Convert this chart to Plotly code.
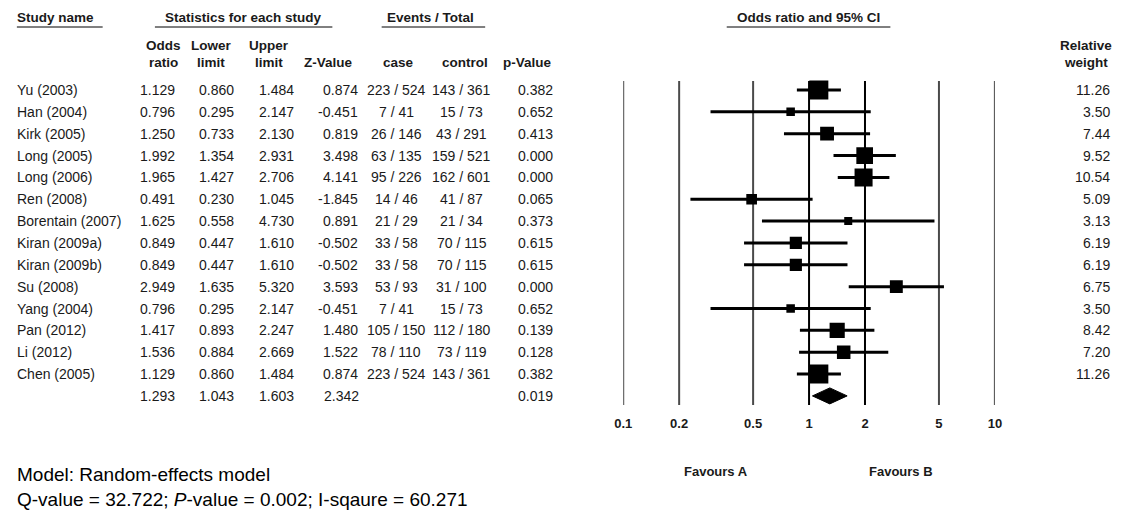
import math
import plotly.graph_objects as go

# ---------------- data ----------------
studies = ["Yu (2003)", "Han (2004)", "Kirk (2005)", "Long (2005)", "Long (2006)",
           "Ren (2008)", "Borentain (2007)", "Kiran (2009a)", "Kiran (2009b)", "Su (2008)",
           "Yang (2004)", "Pan (2012)", "Li (2012)", "Chen (2005)"]
odds_ratio = [1.129, 0.796, 1.250, 1.992, 1.965, 0.491, 1.625, 0.849, 0.849, 2.949,
              0.796, 1.417, 1.536, 1.129]
lower_limit = [0.860, 0.295, 0.733, 1.354, 1.427, 0.230, 0.558, 0.447, 0.447, 1.635,
               0.295, 0.893, 0.884, 0.860]
upper_limit = [1.484, 2.147, 2.130, 2.931, 2.706, 1.045, 4.730, 1.610, 1.610, 5.320,
               2.147, 2.247, 2.669, 1.484]
z_value = [0.874, -0.451, 0.819, 3.498, 4.141, -1.845, 0.891, -0.502, -0.502, 3.593,
           -0.451, 1.480, 1.522, 0.874]
case_events = ["223 / 524", "7 / 41", "26 / 146", "63 / 135", "95 / 226", "14 / 46", "21 / 29",
               "33 / 58", "33 / 58", "53 / 93", "7 / 41", "105 / 150", "78 / 110", "223 / 524"]
control_events = ["143 / 361", "15 / 73", "43 / 291", "159 / 521", "162 / 601", "41 / 87", "21 / 34",
                  "70 / 115", "70 / 115", "31 / 100", "15 / 73", "112 / 180", "73 / 119", "143 / 361"]
p_value = [0.382, 0.652, 0.413, 0.000, 0.000, 0.065, 0.373, 0.615, 0.615, 0.000,
           0.652, 0.139, 0.128, 0.382]
rel_weight = [11.26, 3.50, 7.44, 9.52, 10.54, 5.09, 3.13, 6.19, 6.19, 6.75,
              3.50, 8.42, 7.20, 11.26]

pooled_or = 1.293
pooled_lower = 1.043
pooled_upper = 1.603
pooled_z = 2.342
pooled_p = 0.019

tick_vals = [0.1, 0.2, 0.5, 1, 2, 5, 10]
tick_text = ["0.1", "0.2", "0.5", "1", "2", "5", "10"]

model_text = "Model: Random-effects model"
het_text = "Q-value = 32.722; <i>P</i>-value = 0.002; I-sqaure = 60.271"

# ---------------- layout helpers ----------------
W, H = 1134, 520
ROW0, ROWSTEP = 90.0, 21.85          # pixel y of first row, row spacing
FONT = "Liberation Sans, Arial, sans-serif"
TXT = "#1a1a1a"


def px2row(py):
    return (py - ROW0) / ROWSTEP


def fx(px):
    return px / W


def fy(py):
    return 1 - py / H


n = len(studies)
rows = list(range(n))
sum_row = n

fig = go.Figure()

# vertical reference lines
for v in tick_vals:
    strong = v in (1, 2)
    fig.add_trace(go.Scatter(
        x=[v, v], y=[px2row(81), px2row(405)], mode="lines",
        line=dict(color="#000000" if strong else "#4a4a4a", width=2),
        hoverinfo="skip", showlegend=False))

# confidence interval lines
ci_x, ci_y = [], []
for i in rows:
    ci_x += [lower_limit[i], upper_limit[i], None]
    ci_y += [i, i, None]
fig.add_trace(go.Scatter(x=ci_x, y=ci_y, mode="lines",
                         line=dict(color="#000000", width=3),
                         hoverinfo="skip", showlegend=False))

# squares sized by weight
fig.add_trace(go.Scatter(
    x=odds_ratio, y=rows, mode="markers",
    marker=dict(symbol="square", color="#000000", opacity=1,
                size=[3.8 + 1.35 * w for w in rel_weight], line=dict(width=0)),
    hoverinfo="skip", showlegend=False))

# pooled diamond
h = 8.0 / ROWSTEP
fig.add_trace(go.Scatter(
    x=[pooled_lower, pooled_or, pooled_upper, pooled_or, pooled_lower],
    y=[sum_row, sum_row - h, sum_row, sum_row + h, sum_row],
    mode="lines", fill="toself", fillcolor="#000000",
    line=dict(color="#000000", width=1), hoverinfo="skip", showlegend=False))

ann = []


def add_text(text, x_px, y, anchor="right", size=14, bold=False, yref="y", color=TXT):
    ann.append(dict(text=text, x=fx(x_px), y=y, xref="paper", yref=yref,
                    xanchor=anchor, yanchor="middle", showarrow=False,
                    font=dict(family=FONT, size=size, color=color,
                              weight="bold" if bold else "normal")))


# table body
for i in rows:
    add_text(studies[i], 6, i, anchor="left")
    add_text(f"{odds_ratio[i]:.3f}", 170, i)
    add_text(f"{lower_limit[i]:.3f}", 230, i)
    add_text(f"{upper_limit[i]:.3f}", 291, i)
    add_text(f"{z_value[i]:.3f}", 356, i)
    add_text(case_events[i], 393, i, anchor="center")
    add_text(control_events[i], 459, i, anchor="center")
    add_text(f"{p_value[i]:.3f}", 554, i)
    add_text(f"{rel_weight[i]:.2f}", 1119, i)

# pooled row
add_text(f"{pooled_or:.3f}", 170, sum_row)
add_text(f"{pooled_lower:.3f}", 230, sum_row)
add_text(f"{pooled_upper:.3f}", 291, sum_row)
add_text(f"{pooled_z:.3f}", 337, sum_row, anchor="center")
add_text(f"{pooled_p:.3f}", 554, sum_row)

# headers
HB = 13.5
add_text("Study name", 6, fy(18), anchor="left", size=HB, bold=True, yref="paper")
add_text("Statistics for each study", 238, fy(18), anchor="center", size=HB, bold=True, yref="paper")
add_text("Events / Total", 428, fy(18), anchor="center", size=HB, bold=True, yref="paper")
add_text("Odds ratio and 95% CI", 811, fy(18), anchor="center", size=HB, bold=True, yref="paper")

for label, xc in [("Odds", 157), ("Lower", 205), ("Upper", 264), ("Relative", 1092)]:
    add_text(label, xc, fy(45), anchor="center", size=HB, bold=True, yref="paper")
for label, xc in [("ratio", 157), ("limit", 205), ("limit", 264), ("Z-Value", 324),
                  ("case", 395), ("control", 463), ("p-Value", 526), ("weight", 1092)]:
    add_text(label, xc, fy(62), anchor="center", size=HB, bold=True, yref="paper")

# favours labels
add_text("Favours A", 717, fy(471), anchor="center", size=13, bold=True, yref="paper")
add_text("Favours B", 905, fy(471), anchor="center", size=13, bold=True, yref="paper")

# model text
add_text(model_text, 6, fy(474), anchor="left", size=19, yref="paper", color="#000000")
add_text(het_text, 6, fy(499), anchor="left", size=19, yref="paper", color="#000000")

# header underlines
shapes = []
for x0, x1 in [(8, 95), (148, 328), (378, 483), (728, 894)]:
    shapes.append(dict(type="line", xref="paper", yref="paper",
                       x0=fx(x0), x1=fx(x1), y0=fy(27), y1=fy(27),
                       line=dict(color="#000000", width=1)))

fig.update_layout(
    width=W, height=H, margin=dict(l=0, r=0, t=0, b=0),
    paper_bgcolor="white", plot_bgcolor="white",
    annotations=ann, shapes=shapes, showlegend=False,
    xaxis=dict(type="log", range=[-1, 1], domain=[fx(623), fx(1000)],
               anchor="free", position=fy(414),
               tickvals=tick_vals, ticktext=tick_text, ticks="",
               showgrid=False, zeroline=False, showline=False,
               tickfont=dict(family=FONT, size=13, color=TXT, weight="bold")),
    yaxis=dict(range=[px2row(H), px2row(0)], domain=[0, 1],
               showgrid=False, zeroline=False, showline=False,
               showticklabels=False, ticks=""),
)

fig.write_html("out.html", config={"displayModeBar": False},
               post_script="document.body.style.margin='0';document.body.style.overflow='hidden';")
